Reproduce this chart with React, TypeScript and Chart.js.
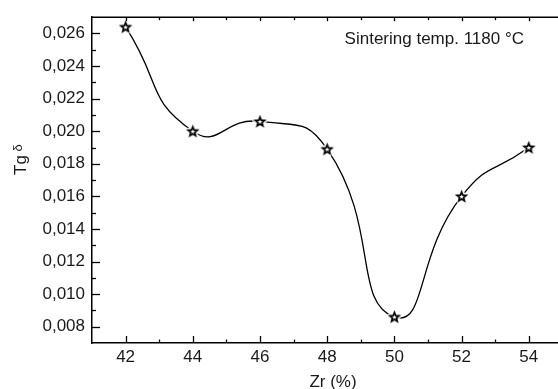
import React, { useEffect, useRef } from "react";
import { Chart, registerables } from "chart.js";
Chart.register(...registerables);

const zrPercent = [42, 44, 46, 48, 50, 52, 54];
const tgDelta = [0.0264, 0.02, 0.0206, 0.0189, 0.0086, 0.016, 0.019];
const xTickValues = [42, 44, 46, 48, 50, 52, 54];
const yTickValues = [0.008, 0.01, 0.012, 0.014, 0.016, 0.018, 0.02, 0.022, 0.024, 0.026];
const xMinorValues = [41, 43, 45, 47, 49, 51, 53];
const yMinorValues = [0.009, 0.011, 0.013, 0.015, 0.017, 0.019, 0.021, 0.023, 0.025];
const annotationText = "Sintering temp. 1180 °C";
const xTitle = "Zr (%)";
const yTitleMain = "Tg";
const yTitleSymbol = "δ";

const FONT = "'Liberation Sans', Arial, sans-serif";
const TEXT = "#1a1a1a";

function makeStar(): HTMLCanvasElement {
  const c = document.createElement("canvas");
  const s = 15;
  c.width = s;
  c.height = s;
  const ctx = c.getContext("2d")!;
  const cx = s / 2, cy = s / 2 + 0.4, R = 4.8, r = 2.1;
  const path = () => {
    ctx.beginPath();
    for (let i = 0; i < 10; i++) {
      const a = -Math.PI / 2 + (i * Math.PI) / 5;
      const rad = i % 2 === 0 ? R : r;
      const px = cx + rad * Math.cos(a), py = cy + rad * Math.sin(a);
      if (i === 0) ctx.moveTo(px, py); else ctx.lineTo(px, py);
    }
    ctx.closePath();
  };
  path();
  ctx.lineJoin = "round";
  ctx.strokeStyle = "#fff";
  ctx.lineWidth = 5;
  ctx.stroke();
  ctx.fillStyle = "#fff";
  ctx.fill();
  ctx.lineJoin = "miter";
  ctx.lineWidth = 1.7;
  ctx.strokeStyle = "#000";
  ctx.stroke();
  return c;
}

const frameTicks = {
  id: "frameTicks",
  afterDraw(chart: any) {
    const ctx = chart.ctx;
    const { left, right, top, bottom } = chart.chartArea;
    const xs = chart.scales.x, ys = chart.scales.y;
    ctx.save();
    ctx.strokeStyle = "#000";
    ctx.lineWidth = 1.5;
    ctx.beginPath();
    ctx.moveTo(left, top);
    ctx.lineTo(right, top);
    ctx.stroke();
    ctx.lineWidth = 1.3;
    const line = (x1: number, y1: number, x2: number, y2: number) => {
      ctx.beginPath();
      ctx.moveTo(x1, y1);
      ctx.lineTo(x2, y2);
      ctx.stroke();
    };
    xTickValues.forEach((v) => {
      const p = Math.round(xs.getPixelForValue(v)) + 0.5;
      line(p, bottom, p, bottom - 7);
      line(p, top, p, top + 4);
    });
    xMinorValues.forEach((v) => {
      const p = Math.round(xs.getPixelForValue(v)) + 0.5;
      if (p <= left + 1) return;
      line(p, bottom, p, bottom - 3.5);
      line(p, top, p, top + 3);
    });
    yTickValues.forEach((v) => {
      const p = Math.round(ys.getPixelForValue(v)) + 0.5;
      line(left, p, left + 8, p);
    });
    yMinorValues.forEach((v) => {
      const p = Math.round(ys.getPixelForValue(v)) + 0.5;
      line(left, p, left + 4, p);
    });
    ctx.fillStyle = TEXT;
    ctx.font = `17px ${FONT}`;
    ctx.textAlign = "right";
    ctx.textBaseline = "middle";
    ctx.fillText(annotationText, right - 34, top + 22);
    // x title
    ctx.textAlign = "center";
    ctx.textBaseline = "alphabetic";
    ctx.fillText(xTitle, (left + right) / 2 + 8, chart.height - 2.5);
    // y title (rotated)
    ctx.translate(25.5, 175);
    ctx.rotate(-Math.PI / 2);
    ctx.textAlign = "left";
    ctx.font = `17px ${FONT}`;
    ctx.fillText(yTitleMain, 0, 0);
    const w = ctx.measureText(yTitleMain + " ").width;
    ctx.font = `13px ${FONT}`;
    ctx.fillText(yTitleSymbol, w - 1, -4);
    ctx.restore();
  },
};

export default function App() {
  const ref = useRef<HTMLCanvasElement>(null);
  useEffect(() => {
    const star = makeStar();
    const chart = new Chart(ref.current!, {
      type: "line",
      data: {
        datasets: [
          {
            data: zrPercent.map((x, i) => ({ x, y: tgDelta[i] })),
            borderColor: "#000",
            borderWidth: 1.3,
            tension: 0.55,
            pointStyle: star as any,
            pointRadius: 7,
            fill: false,
          },
        ],
      },
      options: {
        animation: false,
        responsive: false,
        events: [],
        layout: { autoPadding: false, padding: { top: 15, right: 0, left: 0, bottom: 0 } },
        plugins: { legend: { display: false }, tooltip: { enabled: false } },
        scales: {
          x: {
            type: "linear",
            min: 41,
            max: 54.87,
            afterBuildTicks: (s: any) => {
              s.ticks = xTickValues.map((v) => ({ value: v }));
            },
            afterFit: (s: any) => {
              s.height = 46;
            },
            grid: { display: true, drawOnChartArea: false, drawTicks: false },
            border: { display: true, color: "#000", width: 1.5 },
            ticks: {
              color: TEXT,
              padding: 4,
              font: { family: FONT, size: 17 },
              maxRotation: 0,
              autoSkip: false,
            },
            title: { display: false },
          },
          y: {
            type: "linear",
            min: 0.007,
            max: 0.027,
            afterBuildTicks: (s: any) => {
              s.ticks = yTickValues.map((v) => ({ value: v }));
            },
            afterFit: (s: any) => {
              s.width = 92;
            },
            grid: { display: true, drawOnChartArea: false, drawTicks: false },
            border: { display: true, color: "#000", width: 1.5 },
            ticks: {
              color: TEXT,
              padding: 7,
              font: { family: FONT, size: 17 },
              autoSkip: false,
              callback: (v: any) => Number(v).toFixed(3).replace(".", ","),
            },
            title: { display: false },
          },
        },
      },
      plugins: [frameTicks],
    });
    return () => chart.destroy();
  }, []);
  return (
    <div style={{ position: "fixed", left: 0, top: 0, width: 558, height: 389, background: "#fff" }}>
      <canvas ref={ref} width={558} height={389} style={{ width: 558, height: 389 }} />
    </div>
  );
}
